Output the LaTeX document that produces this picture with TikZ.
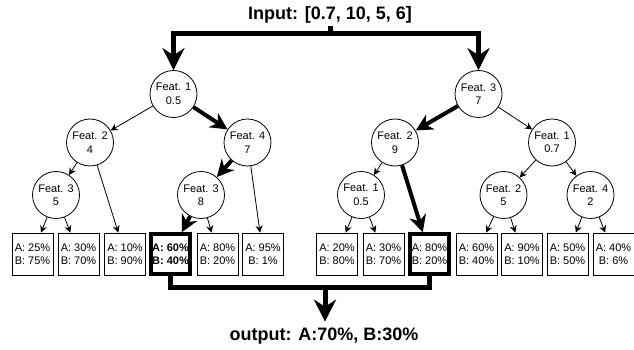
\documentclass[tikz,border=0pt]{standalone}
\usepackage{fontspec}
\setmainfont{Liberation Sans}
\usetikzlibrary{arrows.meta,positioning,calc}

\begin{document}
\begin{tikzpicture}[
    x=1pt, y=-1pt,
    feat/.style={draw, circle, minimum size=47pt, inner sep=0pt, align=center, line width=0.8pt, font=\fontsize{11}{13.5}\selectfont},
    leaf/.style={draw, minimum width=41pt, minimum height=42pt, inner sep=0pt, align=center, line width=0.8pt, font=\fontsize{11}{13.5}\selectfont},
    hit/.style={leaf, minimum width=39pt, minimum height=40pt, line width=3.5pt},
    title/.style={font=\fontsize{18}{21}\selectfont\bfseries, inner sep=2pt},
    arrow/.style={-{Stealth[length=7pt, width=7pt]}, line width=0.8pt},
    heavy/.style={-{Stealth[length=17pt, width=17pt]}, line width=4pt},
    bigarrow/.style={-{Stealth[length=22pt, width=22pt]}, line width=5pt},
    bar/.style={line width=5pt}
]
\useasboundingbox (0,0) rectangle (634,350);

% input and output
\node[title] (input) at (330,15) {Input: [0.7, 10, 5, 6]};
\node[title] (output) at (324,336) {output: A:70\%, B:30\%};
\coordinate (split) at (330,34);
\coordinate (merge) at (325,287);

% left tree
\node[feat] (r1) at (173.5,94) {Feat. 1\\0.5};
\node[feat] (n2) at (90,142.5) {Feat. 2\\4};
\node[feat] (n4) at (247.5,142.5) {Feat. 4\\7};
\node[feat] (n3a) at (56,195) {Feat. 3\\5};
\node[feat] (n3b) at (201,195) {Feat. 3\\8};

\node[leaf] (la1) at (32.5,254) {A: 25\%\\B: 75\%};
\node[leaf] (la2) at (78.5,254) {A: 30\%\\B: 70\%};
\node[leaf] (la3) at (125,254) {A: 10\%\\B: 90\%};
\node[hit, font=\fontsize{11}{13.5}\selectfont\bfseries] (la4) at (170.5,254) {A: 60\%\\B: 40\%};
\node[leaf] (la5) at (217.5,254) {A: 80\%\\B: 20\%};
\node[leaf] (la6) at (263,254) {A: 95\%\\B: 1\%};

% right tree
\node[feat] (r2) at (478.5,94) {Feat. 3\\7};
\node[feat] (m2) at (395,142.5) {Feat. 2\\9};
\node[feat] (m1) at (552,142.5) {Feat. 1\\0.7};
\node[feat] (m1b) at (361,195) {Feat. 1\\0.5};
\node[feat] (m2b) at (503.5,195) {Feat. 2\\5};
\node[feat] (m4) at (590.5,195) {Feat. 4\\2};

\node[leaf] (lb1) at (337,254) {A: 20\%\\B: 80\%};
\node[leaf] (lb2) at (383.5,254) {A: 30\%\\B: 70\%};
\node[hit] (lb3) at (429.5,254) {A: 80\%\\B: 20\%};
\node[leaf] (lb4) at (476.5,254) {A: 60\%\\B: 40\%};
\node[leaf] (lb5) at (522,254) {A: 90\%\\B: 10\%};
\node[leaf] (lb6) at (567.5,254) {A: 50\%\\B: 50\%};
\node[leaf] (lb7) at (613.5,254) {A: 40\%\\B: 6\%};

% input split
\draw[bar] (input.south) -- (split);
\draw[bigarrow] (split) -| (r1.north);
\draw[bigarrow] (split) -| (r2.north);

% left edges
\draw[arrow] (r1) -- (n2);
\draw[heavy] (r1) -- (n4);
\draw[arrow] (n2) -- (n3a);
\draw[arrow] (n2) -- (la3);
\draw[heavy] (n4) -- (n3b);
\draw[arrow] (n4) -- (la6);
\draw[arrow] (n3a) -- (la1);
\draw[arrow] (n3a) -- (la2);
\draw[heavy] (n3b) -- (la4);
\draw[arrow] (n3b) -- (la5);

% right edges
\draw[heavy] (r2) -- (m2);
\draw[arrow] (r2) -- (m1);
\draw[arrow] (m2) -- (m1b);
\draw[heavy] (m2) -- (lb3);
\draw[arrow] (m1) -- (m2b);
\draw[arrow] (m1) -- (m4);
\draw[arrow] (m1b) -- (lb1);
\draw[arrow] (m1b) -- (lb2);
\draw[arrow] (m2b) -- (lb4);
\draw[arrow] (m2b) -- (lb5);
\draw[arrow] (m4) -- (lb6);
\draw[arrow] (m4) -- (lb7);

% output merge
\draw[bar] (la4.south) |- (merge);
\draw[bar] (lb3.south) |- (merge);
\draw[bigarrow, shorten >=4pt] (merge) -- (merge |- output.north);
\end{tikzpicture}
\end{document}
